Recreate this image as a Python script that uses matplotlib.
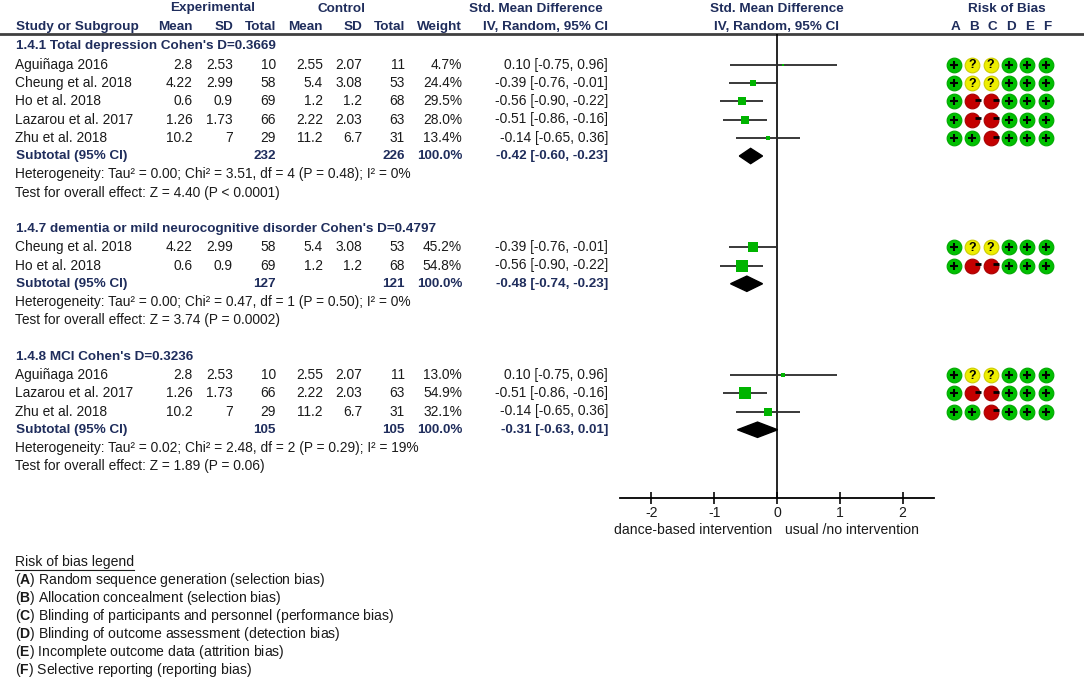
"""Forest plot: dance-based intervention vs usual / no intervention (depression)"""

import matplotlib
matplotlib.use("Agg")
import matplotlib.pyplot as plt
from matplotlib.patches import Polygon
from matplotlib.transforms import blended_transform_factory

# ==================== data ====================
study = ["Aguiñaga 2016", "Cheung et al. 2018", "Ho et al. 2018",
         "Lazarou et al. 2017", "Zhu et al. 2018"]
exp_mean = [2.8, 4.22, 0.6, 1.26, 10.2]
exp_sd = [2.53, 2.99, 0.9, 1.73, 7]
exp_n = [10, 58, 69, 66, 29]
ctl_mean = [2.55, 5.4, 1.2, 2.22, 11.2]
ctl_sd = [2.07, 3.08, 1.2, 2.03, 6.7]
ctl_n = [11, 53, 68, 63, 31]
smd = [0.10, -0.39, -0.56, -0.51, -0.14]
ci_lo = [-0.75, -0.76, -0.90, -0.86, -0.65]
ci_hi = [0.96, -0.01, -0.22, -0.16, 0.36]
rob = ["+??+++", "+??+++", "+--+++", "+--+++", "++-+++"]

sg_title = ["1.4.1 Total depression Cohen's D=0.3669",
            "1.4.7 dementia or mild neurocognitive disorder Cohen's D=0.4797",
            "1.4.8 MCI Cohen's D=0.3236"]
sg_members = [[0, 1, 2, 3, 4], [1, 2], [0, 3, 4]]
sg_weight = [[4.7, 24.4, 29.5, 28.0, 13.4], [45.2, 54.8], [13.0, 54.9, 32.1]]
sg_exp_n = [232, 127, 105]
sg_ctl_n = [226, 121, 105]
sg_smd = [-0.42, -0.48, -0.31]
sg_lo = [-0.60, -0.74, -0.63]
sg_hi = [-0.23, -0.23, 0.01]
sg_tau2 = ["0.00", "0.00", "0.02"]
sg_chi2 = ["3.51", "0.47", "2.48"]
sg_df = [4, 1, 2]
sg_p_het = ["0.48", "0.50", "0.29"]
sg_i2 = [0, 0, 19]
sg_z = ["4.40", "3.74", "1.89"]
sg_p_z = ["< 0.0001", "= 0.0002", "= 0.06"]

rob_letters = ["A", "B", "C", "D", "E", "F"]
rob_legend = ["Random sequence generation (selection bias)",
              "Allocation concealment (selection bias)",
              "Blinding of participants and personnel (performance bias)",
              "Blinding of outcome assessment (detection bias)",
              "Incomplete outcome data (attrition bias)",
              "Selective reporting (reporting bias)"]

xticks = [-2, -1, 0, 1, 2]
left_label = "dance-based intervention"
right_label = "usual /no intervention"

# ==================== style ====================
plt.rcParams["font.family"] = ["Liberation Sans", "DejaVu Sans"]
plt.rcParams["mathtext.fontset"] = "custom"
plt.rcParams["mathtext.rm"] = "Liberation Sans"
plt.rcParams["mathtext.bf"] = "Liberation Sans:bold"

FS = 9.9        # table text
FSB = 9.7       # bold table text
FS2 = 10.1      # axis labels / legend
NAVY = "#1f2d5c"
TXT = "#1a1a1a"
SQ = "#00b400"
ROB_COL = {"+": ("#00c000", "#00a800"), "?": ("#eeee00", "#cccc00"), "-": ("#c40000", "#a80000")}

W, H = 1084, 692
ROW0, DY = 46.5, 18.25        # pixel y of row 0 and row pitch


def ypx(r):
    return ROW0 + DY * r


fig = plt.figure(figsize=(W / 100, H / 100), dpi=100)
bg = fig.add_axes([0, 0, 1, 1])
bg.set_xlim(0, W)
bg.set_ylim(H, 0)
bg.axis("off")

# forest axes (x in SMD, y in row units)
fx0, fx1, fy0, fy1 = 620, 934, 34, 498
ax = fig.add_axes([fx0 / W, 1 - fy1 / H, (fx1 - fx0) / W, (fy1 - fy0) / H])
ax.set_xlim(-2.5, 2.5)
ax.set_ylim((fy1 - ROW0) / DY, (fy0 - ROW0) / DY)
ax.patch.set_alpha(0)
for s in ["top", "left", "right"]:
    ax.spines[s].set_visible(False)
ax.spines["bottom"].set_linewidth(1.3)
ax.set_yticks([])
ax.set_xticks(xticks)
ax.set_xticklabels([str(t) for t in xticks])
ax.tick_params(axis="x", direction="inout", length=8, width=1.3, labelsize=FS2, pad=1.5, colors=TXT)
ax.axvline(0, color="black", lw=1.2)

# risk of bias axes (x = column index)
rx0, rx1 = 944.8, 1054.9
axr = fig.add_axes([rx0 / W, 1 - fy1 / H, (rx1 - rx0) / W, (fy1 - fy0) / H])
axr.set_xlim(-0.5, 5.5)
axr.set_ylim((fy1 - ROW0) / DY, (fy0 - ROW0) / DY)
axr.axis("off")

# ==================== header ====================
hy1, hy2 = 8.5, 27.3
hd = dict(fontsize=FSB, fontweight="bold", color=NAVY, va="center")
bg.text(212.5, hy1, "Experimental", ha="center", **hd)
bg.text(341, hy1, "Control", ha="center", **hd)
bg.text(603, hy1, "Std. Mean Difference", ha="right", **hd)
bg.text(16, hy2, "Study or Subgroup", ha="left", **hd)
cols_x = [193, 233, 276, 323, 362, 405, 462, 608]
for x, lab in zip(cols_x, ["Mean", "SD", "Total", "Mean", "SD", "Total", "Weight",
                           "IV, Random, 95% CI"]):
    bg.text(x, hy2, lab, ha="right", **hd)
tf = blended_transform_factory(ax.transData, bg.transData)
bg.text(0, hy1, "Std. Mean Difference", ha="center", transform=tf, **hd)
bg.text(0, hy2, "IV, Random, 95% CI", ha="center", transform=tf, **hd)
tr = blended_transform_factory(axr.transData, bg.transData)
bg.text(2.9, hy1, "Risk of Bias", ha="center", transform=tr, **hd)
for i, L in enumerate(rob_letters):
    bg.text(i + 0.1, hy2, L, ha="center", transform=tr, **hd)
bg.plot([0, W], [33.5, 33.5], color="#404040", lw=2)

# ==================== rows ====================
nd = dict(fontsize=FS, color=TXT, va="center")
bd = dict(fontsize=FSB, color=NAVY, va="center", fontweight="bold")

r = 0
for g in range(len(sg_title)):
    bg.text(16, ypx(r), sg_title[g], ha="left", **bd)
    for k, i in enumerate(sg_members[g]):
        rr = r + 1 + k
        y = ypx(rr)
        bg.text(15, y, study[i], ha="left", **nd)
        vals = [exp_mean[i], exp_sd[i], exp_n[i], ctl_mean[i], ctl_sd[i], ctl_n[i],
                f"{sg_weight[g][k]:.1f}%",
                f"{smd[i]:.2f} [{ci_lo[i]:.2f}, {ci_hi[i]:.2f}]"]
        for x, v in zip(cols_x, vals):
            bg.text(x, y, str(v), ha="right", **nd)
        # forest marks
        ax.plot([ci_lo[i], ci_hi[i]], [rr, rr], color="#2a2a2a", lw=1.3, solid_capstyle="butt", zorder=2)
        side = (1.8 + 0.196 * sg_weight[g][k]) * 0.72
        ax.plot(smd[i], rr, marker="s", ms=side, color=SQ, mew=0, zorder=3)
        # risk of bias dots
        for c, ch in enumerate(rob[i]):
            fc, ec = ROB_COL[ch]
            axr.scatter(c, rr, s=112, color=fc, edgecolors=ec, linewidths=0.8, zorder=2)
            if ch == "+":
                axr.plot(c, rr, marker="+", ms=5.5, mew=1.5, color="black", zorder=3)
            elif ch == "-":
                axr.plot(c + 0.3, rr - 0.06, marker="_", ms=4.5, mew=2, color="black", zorder=3)
            else:
                axr.text(c, rr + 0.03, "?", ha="center", va="center", fontsize=9,
                         fontweight="bold", color="black", zorder=3)
    rs = r + 1 + len(sg_members[g])
    y = ypx(rs)
    bg.text(16, y, "Subtotal (95% CI)", ha="left", **bd)
    bg.text(cols_x[2], y, str(sg_exp_n[g]), ha="right", **bd)
    bg.text(cols_x[5], y, str(sg_ctl_n[g]), ha="right", **bd)
    bg.text(cols_x[6], y, "100.0%", ha="right", **bd)
    bg.text(cols_x[7], y, f"{sg_smd[g]:.2f} [{sg_lo[g]:.2f}, {sg_hi[g]:.2f}]", ha="right", **bd)
    ax.add_patch(Polygon([(sg_lo[g], rs), (sg_smd[g], rs - 0.42), (sg_hi[g], rs), (sg_smd[g], rs + 0.42)],
                         closed=True, color="black", zorder=3))
    bg.text(15, ypx(rs + 1),
            f"Heterogeneity: Tau² = {sg_tau2[g]}; Chi² = {sg_chi2[g]}, df = {sg_df[g]} "
            f"(P = {sg_p_het[g]}); I² = {sg_i2[g]}%", ha="left", **nd)
    bg.text(15, ypx(rs + 2), f"Test for overall effect: Z = {sg_z[g]} (P {sg_p_z[g]})", ha="left", **nd)
    r = rs + 4

# axis side labels
nd2 = dict(fontsize=FS2, color=TXT, va="center")
tfa = blended_transform_factory(ax.transData, bg.transData)
bg.text(-0.08, 530, left_label, ha="right", transform=tfa, **nd2)
bg.text(0.12, 530, right_label, ha="left", transform=tfa, **nd2)

# ==================== legend ====================
lt = bg.text(15, 562, "Risk of bias legend", ha="left", **nd2)
fig.canvas.draw()
bb = lt.get_window_extent().transformed(bg.transData.inverted())
bg.plot([bb.x0, bb.x1], [569.5, 569.5], color=TXT, lw=0.8)
for i, (L, txt) in enumerate(zip(rob_letters, rob_legend)):
    bg.text(15, 580 + 18 * i, "($\\mathbf{" + L + "}$) " + txt, ha="left", **nd2)

fig.savefig("out.png", dpi=100, facecolor="white")
